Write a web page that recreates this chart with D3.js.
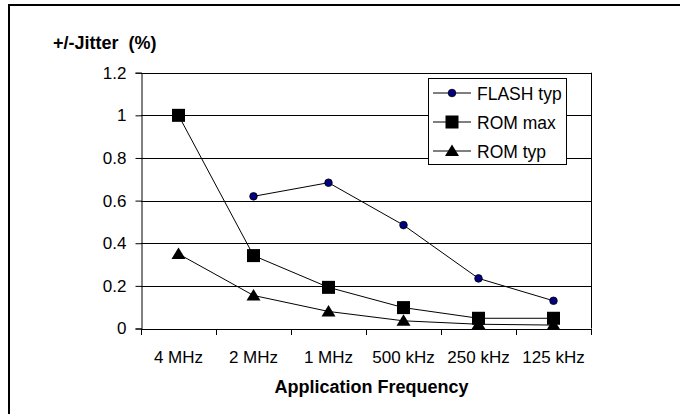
<!DOCTYPE html>
<html>
<head>
<meta charset="utf-8">
<script src="https://cdn.jsdelivr.net/npm/d3@7"></script>
<style>
  body { margin: 0; background: #fff; }
  text { font-family: "Liberation Sans", Arial, sans-serif; fill: #000; }
</style>
</head>
<body>
<div id="chart"></div>
<script>
// data
const categories = ["4 MHz", "2 MHz", "1 MHz", "500 kHz", "250 kHz", "125 kHz"];
const flashTyp = [null, 0.62, 0.684, 0.485, 0.235, 0.13];
const romMax = [1.0, 0.342, 0.193, 0.098, 0.048, 0.048];
const romTyp = [0.35, 0.155, 0.08, 0.036, 0.02, 0.016];
const yTicks = [0, 0.2, 0.4, 0.6, 0.8, 1, 1.2];

const width = 680, height = 414;
const plot = { left: 141, right: 591, top: 72.7, bottom: 328.5 };

let svg = d3.select("#chart").append("svg")
    .attr("width", width)
    .attr("height", height);

//outer frame (only top and left visible)
svg.append("rect")
    .attr("x", 9).attr("y", 5)
    .attr("width", 700).attr("height", 440)
    .attr("fill", "none")
    .attr("stroke", "#000")
    .attr("stroke-width", 2);

//scales
let scaleX = d3.scaleBand().domain(categories).range([plot.left, plot.right]).padding(0);
let scaleY = d3.scaleLinear().domain([0, 1.2]).range([plot.bottom, plot.top]);
let edgeX = d3.scaleLinear().domain([0, categories.length]).range([plot.left, plot.right]);
let cx = c => scaleX(c) + scaleX.bandwidth() / 2;

//gridlines
svg.append("g").selectAll("line")
    .data(yTicks.filter(d => d > 0))
    .join("line")
    .attr("x1", plot.left).attr("x2", plot.right)
    .attr("y1", d => Math.round(scaleY(d)) + 0.5)
    .attr("y2", d => Math.round(scaleY(d)) + 0.5)
    .attr("stroke", "#000");

//right border of plot
svg.append("line")
    .attr("x1", plot.right + 0.5).attr("x2", plot.right + 0.5)
    .attr("y1", plot.top).attr("y2", plot.bottom)
    .attr("stroke", "#000");

//y axis
let axisY = svg.append("g")
    .attr("transform", "translate(" + (plot.left + 0.5) + ",0)")
    .call(d3.axisLeft(scaleY).tickValues(yTicks).tickSize(6).tickPadding(9).tickFormat(d => String(d)));
axisY.selectAll("text").attr("font-size", 17).attr("font-family", null);

//x axis ticks at category edges
let axisXTicks = svg.append("g")
    .attr("transform", "translate(0," + (plot.bottom + 0.5) + ")")
    .call(d3.axisBottom(edgeX).tickValues(d3.range(categories.length + 1)).tickSize(6).tickFormat(""));

//x axis labels at category centers
let axisX = svg.append("g")
    .attr("transform", "translate(0," + (plot.bottom + 0.5) + ")")
    .call(d3.axisBottom(scaleX).tickSize(0).tickPadding(22));
axisX.select(".domain").remove();
axisX.selectAll("text").attr("font-size", 17).attr("font-family", null);

svg.selectAll(".domain").attr("stroke", "#000");
svg.selectAll(".tick line").attr("stroke", "#000");

//axis titles
svg.append("text")
    .attr("x", 53).attr("y", 48.5)
    .attr("font-size", 18).attr("font-weight", "bold")
    .style("white-space", "pre")
    .text("+/-Jitter  (%)");

svg.append("text")
    .attr("x", 371.5).attr("y", 392.5)
    .attr("text-anchor", "middle")
    .attr("font-size", 18).attr("font-weight", "bold")
    .text("Application Frequency");

//series
const series = [
    { name: "FLASH typ", values: flashTyp, marker: "circle" },
    { name: "ROM max", values: romMax, marker: "square" },
    { name: "ROM typ", values: romTyp, marker: "triangle" }
];

function drawMarker(g, type, x, y) {
    if (type === "circle") {
        g.append("circle").attr("cx", x).attr("cy", y).attr("r", 3.8)
            .attr("fill", "#000080").attr("stroke", "#000").attr("stroke-width", 0.8);
    } else if (type === "square") {
        g.append("rect").attr("x", x - 6.5).attr("y", y - 6.5)
            .attr("width", 13).attr("height", 13).attr("fill", "#000");
    } else {
        g.append("path")
            .attr("d", "M" + x + "," + (y - 6.5) + "L" + (x + 7) + "," + (y + 5) + "L" + (x - 7) + "," + (y + 5) + "Z")
            .attr("fill", "#000");
    }
}

let line = d3.line()
    .defined(d => d.v !== null)
    .x(d => cx(d.c))
    .y(d => scaleY(d.v));

for (let s of series) {
    let pts = categories.map((c, i) => ({ c: c, v: s.values[i] }));
    let g = svg.append("g");
    g.append("path").datum(pts)
        .attr("d", line)
        .attr("fill", "none")
        .attr("stroke", "#000")
        .attr("stroke-width", 1);
    for (let p of pts) {
        if (p.v === null) continue;
        drawMarker(g, s.marker, cx(p.c), scaleY(p.v));
    }
}

//legend
let legend = svg.append("g");
legend.append("rect")
    .attr("x", 428.5).attr("y", 78.5)
    .attr("width", 138).attr("height", 86)
    .attr("fill", "#fff").attr("stroke", "#000");
series.forEach((s, i) => {
    let y = 93 + i * 29;
    legend.append("line")
        .attr("x1", 433).attr("x2", 471)
        .attr("y1", y).attr("y2", y)
        .attr("stroke", "#000");
    drawMarker(legend, s.marker, 452, y);
    legend.append("text")
        .attr("x", 477).attr("y", y + 6.5)
        .attr("font-size", 17.5)
        .text(s.name);
});
</script>
</body>
</html>
